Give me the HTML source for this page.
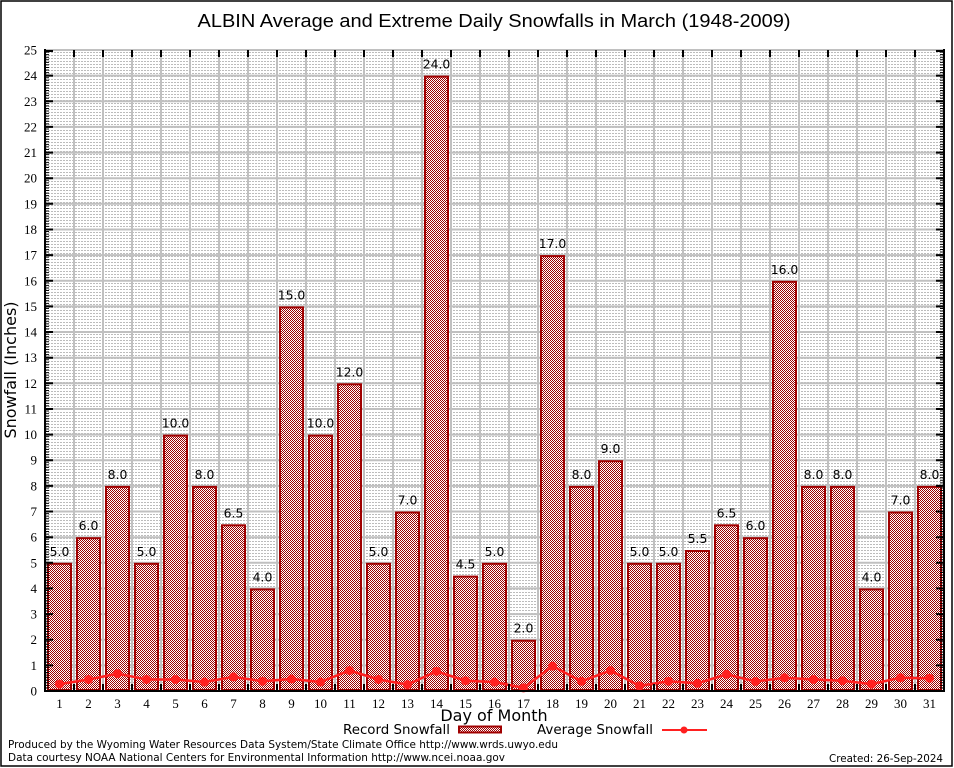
<!DOCTYPE html>
<html><head><meta charset="utf-8"><style>
html,body{margin:0;padding:0;background:#fff;}
svg{display:block;}
.t{font-family:"DejaVu Sans","Liberation Sans",sans-serif;}
.s{font-family:"Liberation Serif","DejaVu Serif",serif;font-size:13px;}
</style></head><body>
<svg width="954" height="768" viewBox="0 0 954 768" xmlns="http://www.w3.org/2000/svg">
<defs>
<pattern id="chk" x="0" y="0" width="2" height="2" patternUnits="userSpaceOnUse">
<rect width="2" height="2" fill="#fff" shape-rendering="crispEdges"/>
<rect x="0" y="0" width="1" height="1" fill="#9c0000" shape-rendering="crispEdges"/>
<rect x="1" y="1" width="1" height="1" fill="#9c0000" shape-rendering="crispEdges"/>
</pattern>
<pattern id="mg" x="0" y="0" width="3" height="3" patternUnits="userSpaceOnUse">
<rect x="0" y="1" width="2" height="1" fill="#bcbcbc" shape-rendering="crispEdges"/>
</pattern>
</defs>
<rect x="0" y="0" width="954" height="768" fill="#fff"/>
<rect x="1" y="1" width="951" height="765" fill="none" stroke="#000" stroke-width="1.5"/>
<text x="494" y="27" text-anchor="middle" font-family="Liberation Sans, sans-serif" font-size="18" textLength="593" lengthAdjust="spacingAndGlyphs">ALBIN Average and Extreme Daily Snowfalls in March (1948-2009)</text>

<rect x="45" y="50" width="899" height="641" fill="url(#mg)"/>
<path fill="none" stroke="#c0c0c0" stroke-width="2" d="
M45 665.4H944 M45 639.7H944 M45 614.1H944 M45 588.4H944 M45 562.8H944 M45 537.2H944 M45 511.5H944 M45 485.9H944 M45 460.2H944 M45 434.6H944 M45 409H944 M45 383.3H944 M45 357.7H944 M45 332H944 M45 306.4H944 M45 280.8H944 M45 255.1H944 M45 229.5H944 M45 203.8H944 M45 178.2H944 M45 152.6H944 M45 126.9H944 M45 101.3H944 M45 75.6H944 M45 50H944
M74 50V691 M103 50V691 M132 50V691 M161 50V691 M190 50V691 M219 50V691 M248 50V691 M277 50V691 M306 50V691 M335 50V691 M364 50V691 M393 50V691 M422 50V691 M451 50V691 M480 50V691 M509 50V691 M538 50V691 M567 50V691 M596 50V691 M625 50V691 M654 50V691 M683 50V691 M712 50V691 M741 50V691 M770 50V691 M799 50V691 M828 50V691 M857 50V691 M886 50V691 M915 50V691"/>

<g fill="url(#chk)" stroke="#a00000" stroke-width="2">
<rect x="48" y="563.8" width="23" height="126.2"/>
<rect x="77" y="538.2" width="23" height="151.8"/>
<rect x="106" y="486.9" width="23" height="203.1"/>
<rect x="135" y="563.8" width="23" height="126.2"/>
<rect x="164" y="435.6" width="23" height="254.4"/>
<rect x="193" y="486.9" width="23" height="203.1"/>
<rect x="222" y="525.3" width="23" height="164.7"/>
<rect x="251" y="589.4" width="23" height="100.6"/>
<rect x="280" y="307.4" width="23" height="382.6"/>
<rect x="309" y="435.6" width="23" height="254.4"/>
<rect x="338" y="384.3" width="23" height="305.7"/>
<rect x="367" y="563.8" width="23" height="126.2"/>
<rect x="396" y="512.5" width="23" height="177.5"/>
<rect x="425" y="76.6" width="23" height="613.4"/>
<rect x="454" y="576.6" width="23" height="113.4"/>
<rect x="483" y="563.8" width="23" height="126.2"/>
<rect x="512" y="640.7" width="23" height="49.3"/>
<rect x="541" y="256.1" width="23" height="433.9"/>
<rect x="570" y="486.9" width="23" height="203.1"/>
<rect x="599" y="461.2" width="23" height="228.8"/>
<rect x="628" y="563.8" width="23" height="126.2"/>
<rect x="657" y="563.8" width="23" height="126.2"/>
<rect x="686" y="551" width="23" height="139"/>
<rect x="715" y="525.3" width="23" height="164.7"/>
<rect x="744" y="538.2" width="23" height="151.8"/>
<rect x="773" y="281.8" width="23" height="408.2"/>
<rect x="802" y="486.9" width="23" height="203.1"/>
<rect x="831" y="486.9" width="23" height="203.1"/>
<rect x="860" y="589.4" width="23" height="100.6"/>
<rect x="889" y="512.5" width="23" height="177.5"/>
<rect x="918" y="486.9" width="23" height="203.1"/>
</g>

<g class="t" font-size="12.4" text-anchor="middle" fill="#000">
<text x="59.5" y="555.8">5.0</text>
<text x="88.5" y="530.2">6.0</text>
<text x="117.5" y="478.9">8.0</text>
<text x="146.5" y="555.8">5.0</text>
<text x="175.5" y="427.6">10.0</text>
<text x="204.5" y="478.9">8.0</text>
<text x="233.5" y="517.3">6.5</text>
<text x="262.5" y="581.4">4.0</text>
<text x="291.5" y="299.4">15.0</text>
<text x="320.5" y="427.6">10.0</text>
<text x="349.5" y="376.3">12.0</text>
<text x="378.5" y="555.8">5.0</text>
<text x="407.5" y="504.5">7.0</text>
<text x="436.5" y="68.6">24.0</text>
<text x="465.5" y="568.6">4.5</text>
<text x="494.5" y="555.8">5.0</text>
<text x="523.5" y="632.7">2.0</text>
<text x="552.5" y="248.1">17.0</text>
<text x="581.5" y="478.9">8.0</text>
<text x="610.5" y="453.2">9.0</text>
<text x="639.5" y="555.8">5.0</text>
<text x="668.5" y="555.8">5.0</text>
<text x="697.5" y="543">5.5</text>
<text x="726.5" y="517.3">6.5</text>
<text x="755.5" y="530.2">6.0</text>
<text x="784.5" y="273.8">16.0</text>
<text x="813.5" y="478.9">8.0</text>
<text x="842.5" y="478.9">8.0</text>
<text x="871.5" y="581.4">4.0</text>
<text x="900.5" y="504.5">7.0</text>
<text x="929.5" y="478.9">8.0</text>
</g>

<polyline fill="none" stroke="#ff2020" stroke-width="2.5" points="59.5,684.1 88.5,679.5 117.5,673.6 146.5,679.5 175.5,679.5 204.5,682 233.5,676.9 262.5,681.3 291.5,679 320.5,682 349.5,670.5 378.5,679.5 407.5,684.6 436.5,671.3 465.5,680.7 494.5,682 523.5,687.9 552.5,666.1 581.5,681.3 610.5,670.5 639.5,685.9 668.5,681.3 697.5,683.3 726.5,674.3 755.5,681.5 784.5,677.7 813.5,679.5 842.5,680.7 871.5,684.1 900.5,677.7 929.5,678.2"/>
<g fill="#ff2020">
<circle cx="59.5" cy="684.1" r="4.5"/><circle cx="88.5" cy="679.5" r="4.5"/><circle cx="117.5" cy="673.6" r="4.5"/><circle cx="146.5" cy="679.5" r="4.5"/><circle cx="175.5" cy="679.5" r="4.5"/><circle cx="204.5" cy="682" r="4.5"/><circle cx="233.5" cy="676.9" r="4.5"/><circle cx="262.5" cy="681.3" r="4.5"/><circle cx="291.5" cy="679" r="4.5"/><circle cx="320.5" cy="682" r="4.5"/><circle cx="349.5" cy="670.5" r="4.5"/><circle cx="378.5" cy="679.5" r="4.5"/><circle cx="407.5" cy="684.6" r="4.5"/><circle cx="436.5" cy="671.3" r="4.5"/><circle cx="465.5" cy="680.7" r="4.5"/><circle cx="494.5" cy="682" r="4.5"/><circle cx="523.5" cy="687.9" r="4.5"/><circle cx="552.5" cy="666.1" r="4.5"/><circle cx="581.5" cy="681.3" r="4.5"/><circle cx="610.5" cy="670.5" r="4.5"/><circle cx="639.5" cy="685.9" r="4.5"/><circle cx="668.5" cy="681.3" r="4.5"/><circle cx="697.5" cy="683.3" r="4.5"/><circle cx="726.5" cy="674.3" r="4.5"/><circle cx="755.5" cy="681.5" r="4.5"/><circle cx="784.5" cy="677.7" r="4.5"/><circle cx="813.5" cy="679.5" r="4.5"/><circle cx="842.5" cy="680.7" r="4.5"/><circle cx="871.5" cy="684.1" r="4.5"/><circle cx="900.5" cy="677.7" r="4.5"/><circle cx="929.5" cy="678.2" r="4.5"/>
</g>

<line x1="45" y1="50" x2="944" y2="50" stroke="#c0c0c0" stroke-width="2"/>
<line x1="45" y1="49" x2="45" y2="692" stroke="#000" stroke-width="2"/>
<line x1="944" y1="49" x2="944" y2="692" stroke="#000" stroke-width="2"/>
<line x1="44" y1="691" x2="945" y2="691" stroke="#000" stroke-width="2"/>
<line x1="47" y1="691" x2="47" y2="50" stroke="#000" stroke-width="4" stroke-dasharray="1 1.564"/>
<line x1="942" y1="691" x2="942" y2="50" stroke="#000" stroke-width="4" stroke-dasharray="1 1.564"/>
<path fill="none" stroke="#000" stroke-width="2" d="
M45 665.4h8 M45 639.7h8 M45 614.1h8 M45 588.4h8 M45 562.8h8 M45 537.2h8 M45 511.5h8 M45 485.9h8 M45 460.2h8 M45 434.6h8 M45 409h8 M45 383.3h8 M45 357.7h8 M45 332h8 M45 306.4h8 M45 280.8h8 M45 255.1h8 M45 229.5h8 M45 203.8h8 M45 178.2h8 M45 152.6h8 M45 126.9h8 M45 101.3h8 M45 75.6h8 M45 51h8
M944 665.4h-8 M944 639.7h-8 M944 614.1h-8 M944 588.4h-8 M944 562.8h-8 M944 537.2h-8 M944 511.5h-8 M944 485.9h-8 M944 460.2h-8 M944 434.6h-8 M944 409h-8 M944 383.3h-8 M944 357.7h-8 M944 332h-8 M944 306.4h-8 M944 280.8h-8 M944 255.1h-8 M944 229.5h-8 M944 203.8h-8 M944 178.2h-8 M944 152.6h-8 M944 126.9h-8 M944 101.3h-8 M944 75.6h-8 M944 51h-8"/>
<path fill="none" stroke="#000" stroke-width="2" d="
M74 691v-7 M103 691v-7 M132 691v-7 M161 691v-7 M190 691v-7 M219 691v-7 M248 691v-7 M277 691v-7 M306 691v-7 M335 691v-7 M364 691v-7 M393 691v-7 M422 691v-7 M451 691v-7 M480 691v-7 M509 691v-7 M538 691v-7 M567 691v-7 M596 691v-7 M625 691v-7 M654 691v-7 M683 691v-7 M712 691v-7 M741 691v-7 M770 691v-7 M799 691v-7 M828 691v-7 M857 691v-7 M886 691v-7 M915 691v-7
M74 50v7 M103 50v7 M132 50v7 M161 50v7 M190 50v7 M219 50v7 M248 50v7 M277 50v7 M306 50v7 M335 50v7 M364 50v7 M393 50v7 M422 50v7 M451 50v7 M480 50v7 M509 50v7 M538 50v7 M567 50v7 M596 50v7 M625 50v7 M654 50v7 M683 50v7 M712 50v7 M741 50v7 M770 50v7 M799 50v7 M828 50v7 M857 50v7 M886 50v7 M915 50v7"/>

<g class="s" text-anchor="end" fill="#000">
<text x="37" y="695.5">0</text><text x="37" y="669.9">1</text><text x="37" y="644.2">2</text><text x="37" y="618.6">3</text><text x="37" y="592.9">4</text><text x="37" y="567.3">5</text><text x="37" y="541.7">6</text><text x="37" y="516">7</text><text x="37" y="490.4">8</text><text x="37" y="464.7">9</text><text x="37" y="439.1">10</text><text x="37" y="413.5">11</text><text x="37" y="387.8">12</text><text x="37" y="362.2">13</text><text x="37" y="336.5">14</text><text x="37" y="310.9">15</text><text x="37" y="285.3">16</text><text x="37" y="259.6">17</text><text x="37" y="234">18</text><text x="37" y="208.3">19</text><text x="37" y="182.7">20</text><text x="37" y="157.1">21</text><text x="37" y="131.4">22</text><text x="37" y="105.8">23</text><text x="37" y="80.1">24</text><text x="37" y="54.5">25</text>
</g>
<g class="s" text-anchor="middle" fill="#000">
<text x="59.5" y="708">1</text><text x="88.5" y="708">2</text><text x="117.5" y="708">3</text><text x="146.5" y="708">4</text><text x="175.5" y="708">5</text><text x="204.5" y="708">6</text><text x="233.5" y="708">7</text><text x="262.5" y="708">8</text><text x="291.5" y="708">9</text><text x="320.5" y="708">10</text><text x="349.5" y="708">11</text><text x="378.5" y="708">12</text><text x="407.5" y="708">13</text><text x="436.5" y="708">14</text><text x="465.5" y="708">15</text><text x="494.5" y="708">16</text><text x="523.5" y="708">17</text><text x="552.5" y="708">18</text><text x="581.5" y="708">19</text><text x="610.5" y="708">20</text><text x="639.5" y="708">21</text><text x="668.5" y="708">22</text><text x="697.5" y="708">23</text><text x="726.5" y="708">24</text><text x="755.5" y="708">25</text><text x="784.5" y="708">26</text><text x="813.5" y="708">27</text><text x="842.5" y="708">28</text><text x="871.5" y="708">29</text><text x="900.5" y="708">30</text><text x="929.5" y="708">31</text>
</g>

<text class="t" x="0" y="0" font-size="16" text-anchor="middle" transform="translate(16,370) rotate(-90)">Snowfall (Inches)</text>
<text class="t" x="494" y="721" font-size="16" text-anchor="middle">Day of Month</text>

<text class="t" x="343" y="734" font-size="13.3" textLength="107" lengthAdjust="spacingAndGlyphs">Record Snowfall</text>
<rect x="459" y="726.5" width="42" height="6" fill="url(#chk)" stroke="#a00000" stroke-width="2"/>
<text class="t" x="537" y="734" font-size="13.3" textLength="116" lengthAdjust="spacingAndGlyphs">Average Snowfall</text>
<line x1="662" y1="730" x2="707" y2="730" stroke="#ff2020" stroke-width="2"/>
<circle cx="684" cy="730" r="3.5" fill="#ff2020"/>

<text class="t" x="8" y="748" font-size="11" textLength="550" lengthAdjust="spacingAndGlyphs">Produced by the Wyoming Water Resources Data System/State Climate Office http://www.wrds.uwyo.edu</text>
<text class="t" x="8" y="761" font-size="11" textLength="497" lengthAdjust="spacingAndGlyphs">Data courtesy NOAA National Centers for Environmental Information http://www.ncei.noaa.gov</text>
<text class="t" x="943" y="762" font-size="11" text-anchor="end" textLength="114" lengthAdjust="spacingAndGlyphs">Created: 26-Sep-2024</text>
</svg>
</body></html>
